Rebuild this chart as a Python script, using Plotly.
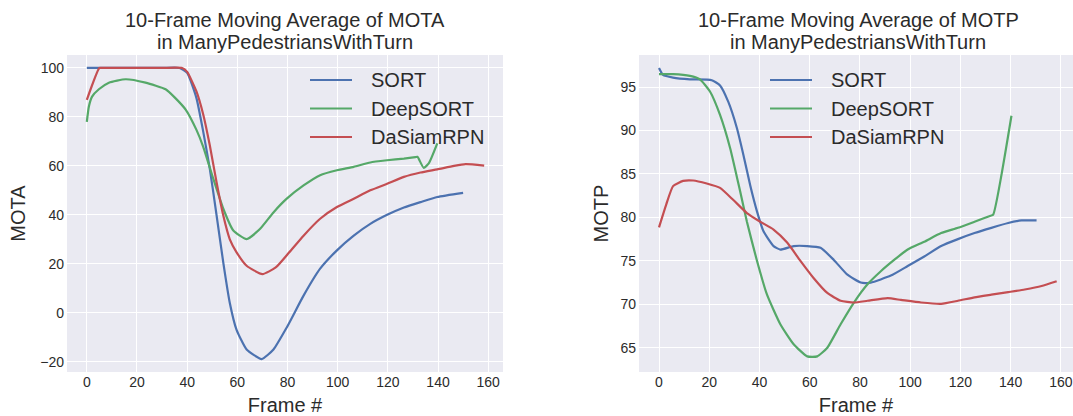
import plotly.graph_objects as go

# ---- series data -------------------------------------------------------
series_names = ["SORT", "DeepSORT", "DaSiamRPN"]
series_colors = ["#4C72B0", "#55A868", "#C44E52"]

# MOTA (10-frame moving average)
mota_sort_frames = [0, 5, 10, 20, 30, 37, 40, 43.7, 46.4, 49, 51.7, 54.4, 57, 59.7, 63.7,
                    69.7, 74.4, 79.7, 86.4, 93, 99.7, 106.4, 113, 119.7, 126.4, 133, 139.7, 150]
mota_sort = [100, 100, 100, 100, 100, 100, 98, 87.7, 74, 59, 40, 20.5, 4, -7, -15,
             -18.9, -15, -6, 7, 18, 25.5, 31.5, 36.3, 40, 43, 45.2, 47.3, 49]

mota_deep_frames = [0, 0.8, 2.1, 4.8, 8.8, 15.5, 23.4, 31.4, 35, 39.4, 43.7, 46.4, 50.4, 54.4,
                    58.4, 63.7, 69, 74.4, 79.7, 86.4, 93, 99.7, 106.4, 113, 119.7, 126.4,
                    131, 131.8, 134.3, 136.3, 139.7]
mota_deep = [78, 84.2, 88.3, 91.3, 94, 95.4, 94, 91.3, 88, 83, 74.7, 67.8, 54.8, 42.5,
             33.6, 30.1, 34.2, 41, 46.6, 52, 56.2, 58.2, 59.6, 61.4, 62.3, 63,
             63.6, 63.7, 59.2, 61, 69.2]

mota_dasiam_frames = [0, 5, 6, 10, 20, 30, 38, 40, 43.7, 46.4, 49, 51.7, 54.4, 57, 59.7, 63.7,
                      70, 75.3, 80.7, 86.4, 93, 99.7, 106.4, 113, 119.7, 126.4, 133, 139.7,
                      146.4, 151, 158.4]
mota_dasiam = [87, 100, 100, 100, 100, 100, 100, 98.4, 90.4, 81, 68.5, 53.4, 39.7, 30, 24.7,
               19.2, 15.8, 18.5, 24.7, 31.5, 38.4, 43.2, 46.6, 50, 52.7, 55.5, 57.3, 58.6,
               60, 60.7, 60.1]

# MOTP (10-frame moving average)
motp_sort_frames = [0, 1.6, 5.6, 12.3, 21, 24.3, 27.6, 31, 33.6, 36.3, 39, 41.6, 45.6, 48.3,
                    53.6, 59, 64.3, 69.6, 75, 80.3, 84.3, 92.3, 99, 105.6, 112.3, 119, 125.6,
                    132.3, 139, 144.3, 150.3]
motp_sort = [97.2, 96.4, 96.1, 95.9, 95.8, 95.2, 93.3, 90.3, 87.2, 83.7, 80.7, 78.4, 76.7, 76.3,
             76.7, 76.7, 76.5, 75.1, 73.4, 72.5, 72.5, 73.3, 74.4, 75.5, 76.7, 77.5, 78.2,
             78.8, 79.35, 79.65, 79.65]

motp_deep_frames = [0, 5.6, 12.3, 16.3, 20.3, 24.3, 28.3, 32.3, 35, 39, 43, 48.3, 53.6, 59, 63,
                    67, 72.3, 77.6, 83, 88.3, 93.6, 99, 105.6, 112.3, 119, 125.6, 132, 133,
                    140.3]
motp_deep = [96.5, 96.5, 96.3, 95.9, 94.5, 91.8, 88, 83, 79.5, 75, 71.1, 67.7, 65.4, 64, 64,
             65, 67.7, 70.2, 72.3, 73.8, 75.1, 76.3, 77.2, 78.2, 78.8, 79.5, 80.2, 80.3,
             91.7]

motp_dasiam_frames = [0, 2.9, 5.6, 9.6, 13.6, 19, 24.3, 29.6, 35, 40.3, 45.6, 51, 56.3, 61.6,
                      67, 72.3, 77.6, 83, 91, 96.3, 104.3, 112.3, 119, 125.6, 132.3, 139,
                      145.6, 152.3, 158.3]
motp_dasiam = [78.85, 81.5, 83.6, 84.2, 84.25, 83.9, 83.4, 82, 80.5, 79.5, 78.6, 77.1, 75, 73,
               71.3, 70.4, 70.2, 70.4, 70.7, 70.5, 70.2, 70.05, 70.4, 70.8, 71.1, 71.4,
               71.7, 72.1, 72.65]

# axis ticks
frame_ticks = [0, 20, 40, 60, 80, 100, 120, 140, 160]
mota_ticks = [-20, 0, 20, 40, 60, 80, 100]
motp_ticks = [65, 70, 75, 80, 85, 90, 95]

titles = [
    ("10-Frame Moving Average of MOTA", "in ManyPedestriansWithTurn"),
    ("10-Frame Moving Average of MOTP", "in ManyPedestriansWithTurn"),
]

# ---- figure --------------------------------------------------------------
W, H = 1073, 416
FONT = "Liberation Sans, Arial, sans-serif"
TEXT = "#2b2b2b"
BG = "#EAEAF2"
LINE_W = 2.2

fig = go.Figure()

mota_sets = [(mota_sort_frames, mota_sort), (mota_deep_frames, mota_deep),
             (mota_dasiam_frames, mota_dasiam)]
motp_sets = [(motp_sort_frames, motp_sort), (motp_deep_frames, motp_deep),
             (motp_dasiam_frames, motp_dasiam)]

for sets, xa, ya in [(mota_sets, "x", "y"), (motp_sets, "x2", "y2")]:
    for (fx, fy), name, color in zip(sets, series_names, series_colors):
        fig.add_trace(go.Scatter(x=fx, y=fy, name=name, mode="lines",
                                 line=dict(color=color, width=LINE_W,
                                           shape="spline", smoothing=0.5),
                                 xaxis=xa, yaxis=ya, showlegend=False))

y_dom = [1 - 372 / H, 1 - 55 / H]
common_axis = dict(showgrid=True, gridcolor="white", gridwidth=1.2, zeroline=False,
                   showline=False, ticks="", tickfont=dict(size=14, color=TEXT, family=FONT))

fig.update_layout(
    width=W, height=H,
    margin=dict(l=0, r=0, t=0, b=0),
    paper_bgcolor="white", plot_bgcolor=BG,
    font=dict(family=FONT, color=TEXT),
    xaxis=dict(domain=[67 / W, 503 / W], range=[-7.9, 165.9], tickvals=frame_ticks,
               anchor="y", title=dict(text="Frame #", font=dict(size=20), standoff=10),
               **common_axis),
    yaxis=dict(domain=y_dom, range=[-24.2, 105.3], tickvals=mota_ticks, anchor="x",
               ticklabelstandoff=2,
               title=dict(text="MOTA", font=dict(size=20), standoff=9), **common_axis),
    xaxis2=dict(domain=[639 / W, 1.0], range=[-7.96, 164.8], tickvals=frame_ticks,
                anchor="y2", title=dict(text="Frame #", font=dict(size=20), standoff=10),
                **common_axis),
    yaxis2=dict(domain=y_dom, range=[62.2, 98.7], tickvals=motp_ticks, anchor="x2",
                ticklabelstandoff=2,
                title=dict(text="MOTP", font=dict(size=20), standoff=6), **common_axis),
)

# two-line titles
title_centers = [285 / W, 858 / W]
annotations = []
for (l1, l2), cx in zip(titles, title_centers):
    annotations.append(dict(text=l1, x=cx, y=1 - 20 / H, xref="paper", yref="paper",
                            xanchor="center", yanchor="middle", showarrow=False,
                            font=dict(size=20, color=TEXT, family=FONT)))
    annotations.append(dict(text=l2, x=cx, y=1 - 42 / H, xref="paper", yref="paper",
                            xanchor="center", yanchor="middle", showarrow=False,
                            font=dict(size=20, color=TEXT, family=FONT)))

# legends drawn inside each panel
shapes = []
legend_rows = [80, 108.5, 137]
legend_x = [(310, 352, 369), (770, 812, 829)]
for lx0, lx1, tx in legend_x:
    for name, color, ry in zip(series_names, series_colors, legend_rows):
        shapes.append(dict(type="line", xref="paper", yref="paper",
                           x0=lx0 / W, x1=lx1 / W, y0=1 - ry / H, y1=1 - ry / H,
                           line=dict(color=color, width=LINE_W)))
        annotations.append(dict(text=name, x=tx / W, y=1 - ry / H, xref="paper",
                                yref="paper", xanchor="left", yanchor="middle",
                                showarrow=False,
                                font=dict(size=20, color=TEXT, family=FONT)))

fig.update_layout(annotations=annotations, shapes=shapes)

fig.write_html("out.html")
